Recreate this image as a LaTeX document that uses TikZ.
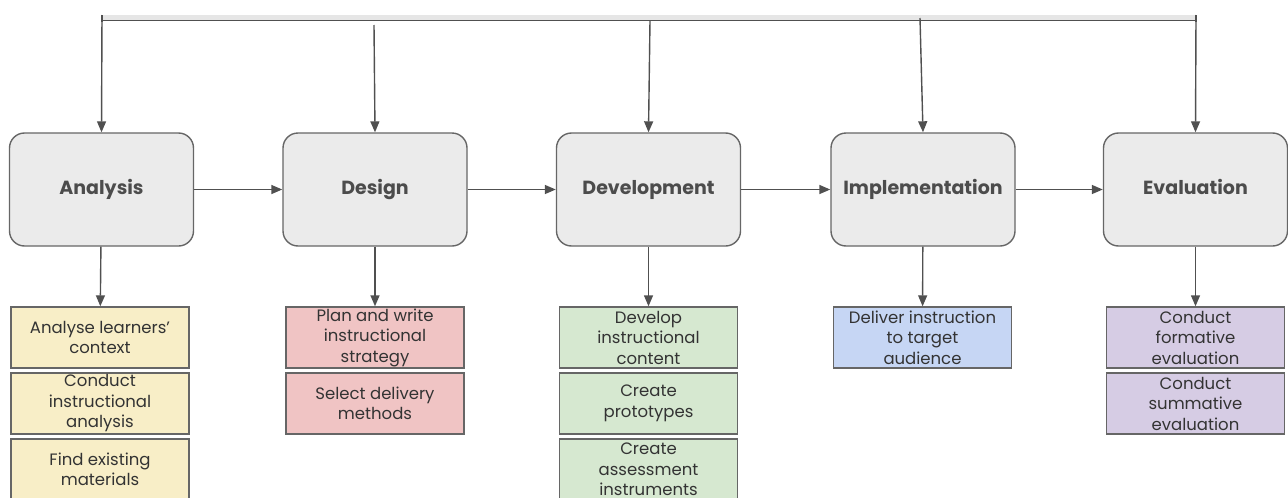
\documentclass[tikz,border=0pt]{standalone}
\usepackage{fontspec}
\setmainfont{Poppins}
\usetikzlibrary{arrows.meta,positioning}

\definecolor{edge}{HTML}{666666}
\definecolor{wire}{HTML}{505050}
\definecolor{phasefill}{HTML}{EBEBEB}
\definecolor{phasetext}{HTML}{4C4C4C}
\definecolor{tasktext}{HTML}{333333}
\definecolor{taskyellow}{HTML}{F8EEC7}
\definecolor{taskred}{HTML}{F0C4C4}
\definecolor{taskgreen}{HTML}{D6E8D0}
\definecolor{taskblue}{HTML}{C6D6F4}
\definecolor{taskpurple}{HTML}{D6CCE4}
\definecolor{barfill}{HTML}{E6E6E6}

\tikzset{
  x=1pt, y=-1pt,
  phase/.style={draw=edge, line width=1.4pt, fill=phasefill, rounded corners=15pt,
    minimum width=184pt, minimum height=113pt, inner sep=0pt,
    text height=14pt, text depth=4pt,
    text=phasetext, font=\fontsize{19}{22}\selectfont\bfseries},
  task/.style={draw=edge, line width=1.4pt, minimum width=178pt, minimum height=61pt,
    inner sep=0pt, align=center, text=tasktext,
    font=\fontsize{16.5}{20.5}\selectfont},
  flow/.style={draw=wire, line width=1.4pt, -{Triangle[length=11pt,width=9pt]}},
  barline/.style={draw=wire, line width=1.4pt},
}

\begin{document}
\begin{tikzpicture}
\useasboundingbox (0,0) rectangle (1288,498);
\clip (0,0) rectangle (1288,498);

% overarching bracket along the top
\fill[barfill] (102,15) rectangle (1196,20.5);
\draw[barline] (102,20.5) -- (1196,20.5);
\draw[barline] (102,15) -- (102,22);
\draw[barline] (1196,15) -- (1196,22);

\coordinate (tA) at (102,15);
\coordinate (tD) at (374,25);
\coordinate (tV) at (650,20.5);
\coordinate (tI) at (920,18);
\coordinate (tE) at (1196,15);

% phases
\node[phase] (ana) at (101.5,189.5) {Analysis};
\node[phase] (des) at (375,189.5) {Design};
\node[phase] (dev) at (648.5,189.5) {Development};
\node[phase] (imp) at (923,189.5) {Implementation};
\node[phase] (eva) at (1195.5,189.5) {Evaluation};

\draw[flow] (tA) -- (ana.north);
\draw[flow] (tD) -- (des.north);
\draw[flow] (tV) -- (dev.north);
\draw[flow] (tI) -- (imp.north);
\draw[flow] (tE) -- (eva.north);

\draw[flow] (ana) -- (des);
\draw[flow] (des) -- (dev);
\draw[flow] (dev) -- (imp);
\draw[flow] (imp) -- (eva);

% tasks under each phase
\node[task, fill=taskyellow] (a1) at (100,337.5) {Analyse learners'\\context};
\node[task, fill=taskyellow] (a2) at (100,403.5) {Conduct\\instructional\\analysis};
\node[task, fill=taskyellow] (a3) at (100,469.5) {Find existing\\materials};

\node[task, fill=taskred] (d1) at (375,337.5) {Plan and write\\instructional\\strategy};
\node[task, fill=taskred] (d2) at (375,403.5) {Select delivery\\methods};

\node[task, fill=taskgreen] (v1) at (648.5,337.5) {Develop\\instructional\\content};
\node[task, fill=taskgreen] (v2) at (648.5,403.5) {Create\\prototypes};
\node[task, fill=taskgreen] (v3) at (648.5,469.5) {Create\\assessment\\instruments};

\node[task, fill=taskblue] (i1) at (922.5,337.5) {Deliver instruction\\to target\\audience};

\node[task, fill=taskpurple] (e1) at (1195.5,337.5) {Conduct\\formative\\evaluation};
\node[task, fill=taskpurple] (e2) at (1195.5,403.5) {Conduct\\summative\\evaluation};

\draw[flow] (ana) -- (a1);
\draw[flow] (des) -- (d1);
\draw[flow] (dev) -- (v1);
\draw[flow] (imp) -- (i1);
\draw[flow] (eva) -- (e1);
\end{tikzpicture}
\end{document}
